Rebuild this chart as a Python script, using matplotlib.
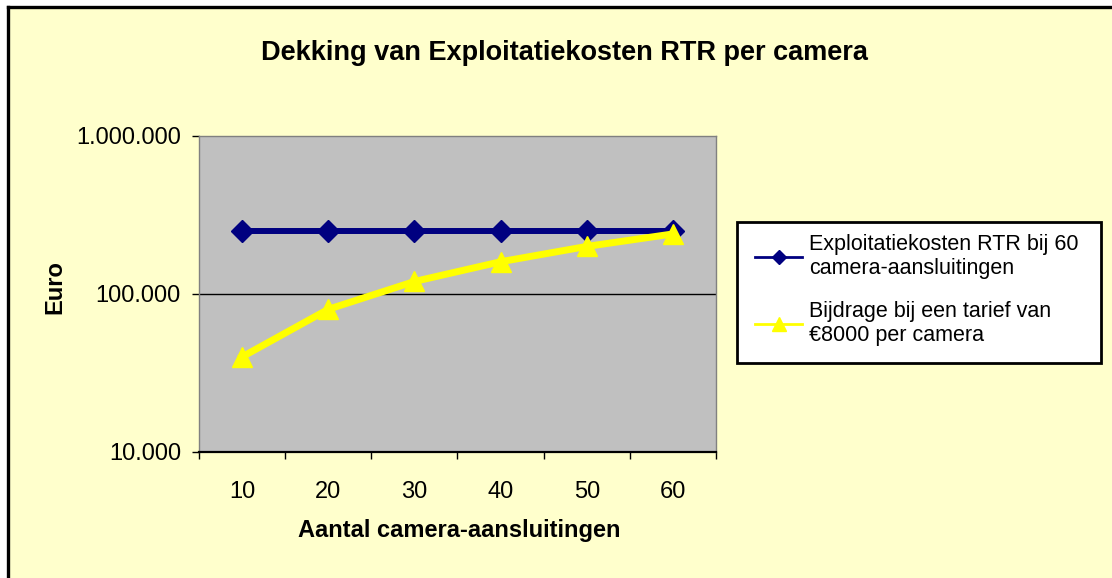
import matplotlib.pyplot as plt
import matplotlib.ticker as mticker
from matplotlib.patches import Rectangle
from matplotlib.lines import Line2D

plt.rcParams['font.family'] = ['Liberation Sans', 'DejaVu Sans']

aantal = ['10', '20', '30', '40', '50', '60']
exploitatiekosten = [250000, 250000, 250000, 250000, 250000, 250000]
bijdrage = [40000, 80000, 120000, 160000, 200000, 240000]

W, H = 1112, 578
fig = plt.figure(figsize=(W / 100, H / 100), dpi=100)
fig.patch.set_facecolor('white')

# geel vlak, zwarte rand alleen links en boven zichtbaar
fig.patches.append(Rectangle((7.5 / W, 0), 1, 1 - 6.5 / H, transform=fig.transFigure,
                             facecolor='#FFFFCC', edgecolor='none', zorder=-2))
fig.lines.append(Line2D([7.5 / W, 7.5 / W], [0, 1 - 6.5 / H], transform=fig.transFigure,
                        color='black', linewidth=2.4))
fig.lines.append(Line2D([7.5 / W, 1], [1 - 6.5 / H, 1 - 6.5 / H], transform=fig.transFigure,
                        color='black', linewidth=2.4))

ax = fig.add_axes([199 / W, 1 - 452 / H, (716 - 199) / W, (452 - 136) / H])
ax.set_facecolor('#C0C0C0')

x = range(len(aantal))
ax.plot(x, exploitatiekosten, color='#000080', linewidth=4.3, marker='D', markersize=11,
        label='Exploitatiekosten RTR bij 60\ncamera-aansluitingen', zorder=3)
ax.plot(x, bijdrage, color='#FFFF00', linewidth=5, marker='^', markersize=15,
        label='Bijdrage bij een tarief van\n€8000 per camera', zorder=4)

ax.set_yscale('log')
ax.set_ylim(10000, 1000000)
ax.set_xlim(-0.5, 5.5)
ax.yaxis.set_major_locator(mticker.FixedLocator([10000, 100000, 1000000]))
ax.yaxis.set_minor_locator(mticker.NullLocator())
ax.yaxis.set_major_formatter(mticker.FuncFormatter(lambda v, p: f'{v:,.0f}'.replace(',', '.')))
ax.axhline(100000, color='black', linewidth=1.0, zorder=2)

ax.set_xticks(range(len(aantal)))
ax.set_xticklabels(aantal)
ax.set_xticks([i - 0.5 for i in range(len(aantal) + 1)], minor=True)
ax.tick_params(axis='x', which='major', length=0, pad=21, labelsize=17)
ax.tick_params(axis='x', which='minor', length=5, width=1.0, direction='out')
ax.tick_params(axis='y', which='major', length=5, width=1.0, labelsize=17, pad=8)

for s in ['top', 'right', 'left']:
    ax.spines[s].set_color('#808080')
    ax.spines[s].set_linewidth(1.0)
ax.spines['bottom'].set_color('black')
ax.spines['bottom'].set_linewidth(1.6)

fig.text(459 / W, 1 - 537 / H, 'Aantal camera-aansluitingen', ha='center', va='baseline',
         fontsize=17, fontweight='bold')
fig.text(55 / W, 1 - 287 / H, 'Euro', ha='center', va='center', rotation=90,
         fontsize=17, fontweight='bold')
fig.text(564 / W, 1 - 60 / H, 'Dekking van Exploitatiekosten RTR per camera', ha='center', va='baseline',
         fontsize=19.5, fontweight='bold')

# legenda met eigen kader
fig.patches.append(Rectangle((737 / W, 1 - 363 / H), (1101 - 737) / W, (363 - 222) / H,
                             transform=fig.transFigure, facecolor='white', edgecolor='black',
                             linewidth=2.0, zorder=1))
leg = fig.legend(loc='upper left', bbox_to_anchor=(755 / W, 1 - 234 / H), fontsize=15.5,
                 frameon=False, borderaxespad=0, borderpad=0,
                 handlelength=2.2, labelspacing=1.0, handletextpad=0.33)
leg.set_zorder(2)
for h in leg.legend_handles:
    h.set_linewidth(2)
leg.legend_handles[0].set_markersize(7)
leg.legend_handles[1].set_markersize(10)

fig.savefig('out.png', dpi=100, facecolor=fig.get_facecolor())
